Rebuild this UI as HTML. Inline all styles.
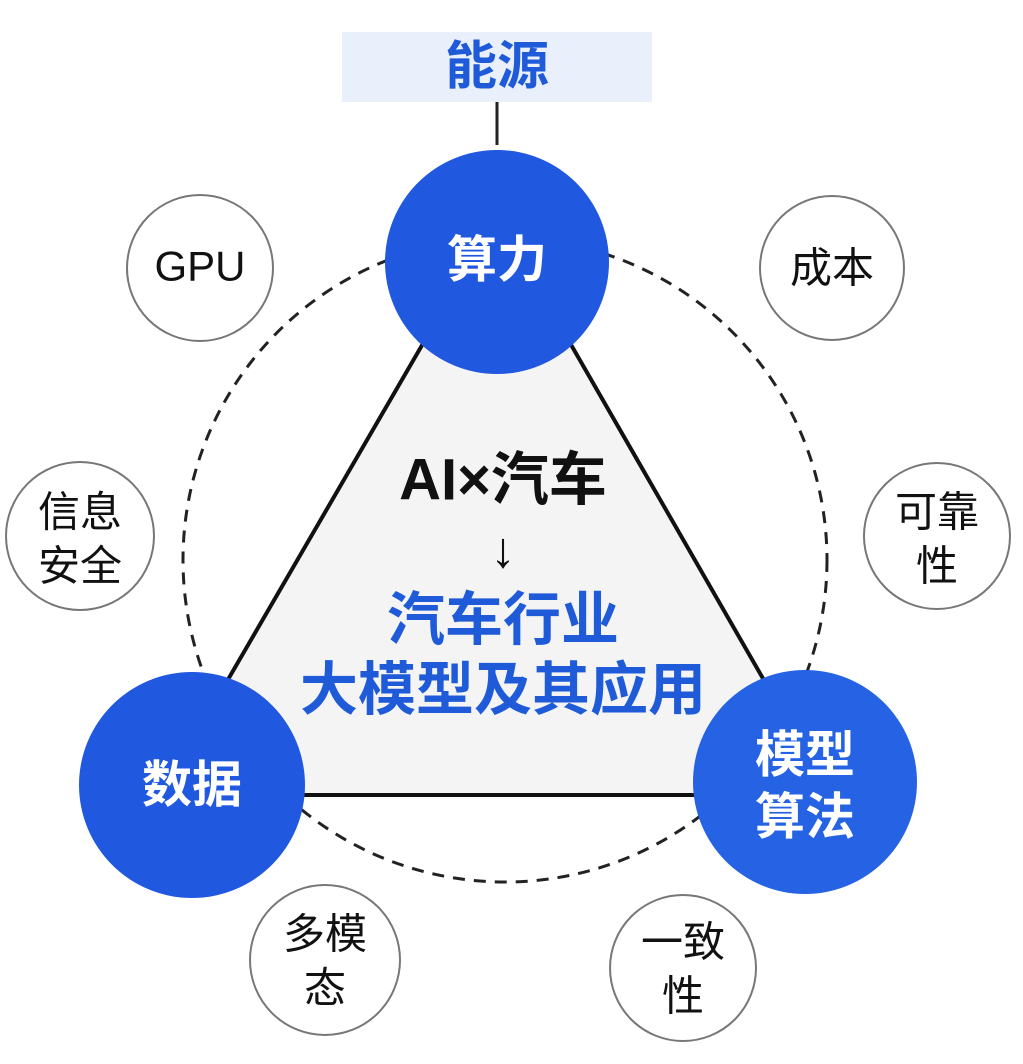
<!DOCTYPE html>
<html><head><meta charset="utf-8"><style>
html,body{margin:0;padding:0;background:#fff;}
svg{display:block;}
text{font-family:"Liberation Sans","Noto Sans CJK SC",sans-serif;text-anchor:middle;dominant-baseline:central;}
</style></head><body>
<svg width="1023" height="1064" viewBox="0 0 1023 1064" xmlns="http://www.w3.org/2000/svg">
<rect x="342" y="32" width="310" height="70" fill="#e9effb"/>
<text x="497" y="67" font-size="52" font-weight="bold" fill="#1f5bd8">能源</text>
<line x1="497" y1="102" x2="497" y2="145" stroke="#222" stroke-width="3"/>
<circle cx="505" cy="560" r="322" fill="none" stroke="#222" stroke-width="3" stroke-dasharray="12 9"/>
<polygon points="497,216 161,795 830,795" fill="#f4f4f4" stroke="#111" stroke-width="4"/>
<circle cx="497" cy="262" r="112" fill="#2158e0"/>
<text x="497" y="260" font-size="50" font-weight="bold" fill="#fff">算力</text>
<circle cx="192" cy="785" r="113" fill="#2158e0"/>
<text x="192" y="785" font-size="50" font-weight="bold" fill="#fff">数据</text>
<circle cx="805" cy="782" r="112" fill="#2563e4"/>
<text x="805" y="755" font-size="50" font-weight="bold" fill="#fff">模型</text>
<text x="805" y="817" font-size="50" font-weight="bold" fill="#fff">算法</text>
<text x="503" y="480" font-size="58" font-weight="bold" fill="#111">AI×汽车</text>
<text x="503" y="550" font-size="50" fill="#111">↓</text>
<text x="503" y="620" font-size="58" font-weight="bold" fill="#1f5bd8">汽车行业</text>
<text x="503" y="690" font-size="58" font-weight="bold" fill="#1f5bd8">大模型及其应用</text>
<g fill="#fff" stroke="#777" stroke-width="2">
<circle cx="200" cy="268" r="73"/>
<circle cx="832" cy="268" r="72"/>
<circle cx="80" cy="536" r="74"/>
<circle cx="937" cy="536" r="73"/>
<circle cx="325" cy="960" r="75"/>
<circle cx="683" cy="968" r="73"/>
</g>
<g fill="#111" font-size="42">
<text x="200" y="266">GPU</text>
<text x="832" y="268">成本</text>
<text x="80" y="512">信息</text>
<text x="80" y="566">安全</text>
<text x="937" y="512">可靠</text>
<text x="937" y="566">性</text>
<text x="325" y="934">多模</text>
<text x="325" y="988">态</text>
<text x="683" y="942">一致</text>
<text x="683" y="996">性</text>
</g>
</svg>
</body></html>
